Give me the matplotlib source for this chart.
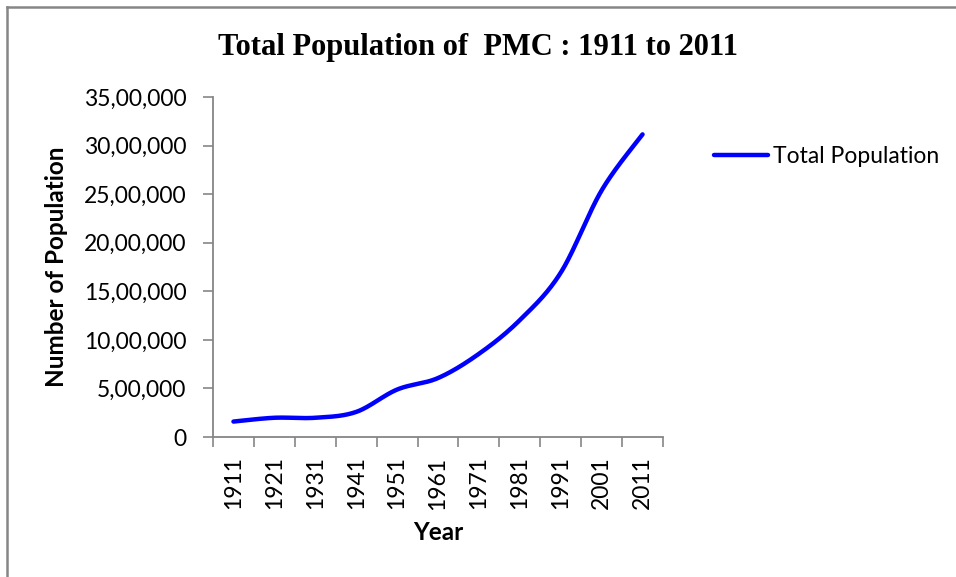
import numpy as np
import matplotlib
matplotlib.use("Agg")
import matplotlib.pyplot as plt
from matplotlib.ticker import FuncFormatter, FixedLocator
from matplotlib.lines import Line2D

# Census population of Pune Municipal Corporation
years = ["1911", "1921", "1931", "1941", "1951", "1961",
         "1971", "1981", "1991", "2001", "2011"]
population = [158856, 198078, 198000, 258197, 488419, 606777,
              856105, 1203351, 1691430, 2538473, 3115431]
series_name = "Total Population"
title = "Total Population of  PMC : 1911 to 2011"
y_ticks = [0, 500000, 1000000, 1500000, 2000000, 2500000, 3000000, 3500000]

LINE_BLUE = "#0000FF"
AXIS_GREY = "#868686"
SANS = ["Lato", "DejaVu Sans"]
TICK_SIZE = 16.5
LABEL_SIZE = 17.5


def indian_format(v, _pos=None):
    v = int(round(v))
    if v == 0:
        return "0"
    s = str(v)
    last3, rest = s[-3:], s[:-3]
    groups = []
    while len(rest) > 2:
        groups.insert(0, rest[-2:])
        rest = rest[:-2]
    if rest:
        groups.insert(0, rest)
    return ",".join(groups + [last3])


def smooth_curve(x, y, steps=40):
    """Catmull-Rom smoothing between consecutive points (spreadsheet-style smoothed line)."""
    x = np.asarray(x, float)
    y = np.asarray(y, float)
    px = np.concatenate([[x[0]], x, [x[-1]]])
    py = np.concatenate([[y[0]], y, [y[-1]]])
    out_x, out_y = [], []
    t = np.linspace(0, 1, steps)
    for i in range(1, len(px) - 2):
        p0x, p1x, p2x, p3x = px[i - 1], px[i], px[i + 1], px[i + 2]
        p0y, p1y, p2y, p3y = py[i - 1], py[i], py[i + 1], py[i + 2]
        c1x, c1y = p1x + (p2x - p0x) / 6, p1y + (p2y - p0y) / 6
        c2x, c2y = p2x - (p3x - p1x) / 6, p2y - (p3y - p1y) / 6
        bx = (1 - t) ** 3 * p1x + 3 * (1 - t) ** 2 * t * c1x + 3 * (1 - t) * t ** 2 * c2x + t ** 3 * p2x
        by = (1 - t) ** 3 * p1y + 3 * (1 - t) ** 2 * t * c1y + 3 * (1 - t) * t ** 2 * c2y + t ** 3 * p2y
        if i > 1:
            bx, by = bx[1:], by[1:]
        out_x.append(bx)
        out_y.append(by)
    return np.concatenate(out_x), np.concatenate(out_y)


W, H = 956, 577
fig = plt.figure(figsize=(W / 100, H / 100), dpi=100)
fig.patch.set_facecolor("white")

# chart area frame (top and left edges visible)
fig.add_artist(Line2D([7 / W, 7 / W], [0, 1 - 7 / H], transform=fig.transFigure,
                      color=AXIS_GREY, lw=1.8))
fig.add_artist(Line2D([7 / W, 1], [1 - 7 / H, 1 - 7 / H], transform=fig.transFigure,
                      color=AXIS_GREY, lw=1.8))

ax = fig.add_axes([213 / W, 1 - 437 / H, (663 - 213) / W, (437 - 97) / H])

xpos = np.arange(len(years))
sx, sy = smooth_curve(xpos, population)
ax.plot(sx, sy, color=LINE_BLUE, lw=3.2, solid_capstyle="round",
        solid_joinstyle="round", label=series_name)

ax.set_xlim(-0.5, len(years) - 0.5)
ax.set_ylim(0, 3500000)

ax.spines["top"].set_visible(False)
ax.spines["right"].set_visible(False)
for side in ("left", "bottom"):
    ax.spines[side].set_color(AXIS_GREY)
    ax.spines[side].set_linewidth(1.3)

ax.yaxis.set_major_locator(FixedLocator(y_ticks))
ax.yaxis.set_major_formatter(FuncFormatter(indian_format))
ax.tick_params(axis="y", direction="out", length=7, width=1.2, color=AXIS_GREY,
               labelsize=TICK_SIZE, pad=12)

# tick marks between categories, labels centred on categories
ax.xaxis.set_major_locator(FixedLocator(np.arange(-0.5, len(years), 1.0)))
ax.xaxis.set_major_formatter(FuncFormatter(lambda v, p: ""))
ax.xaxis.set_minor_locator(FixedLocator(xpos))
ax.set_xticklabels(years, minor=True)
ax.tick_params(axis="x", which="major", direction="out", length=7, width=1.2, color=AXIS_GREY)
ax.tick_params(axis="x", which="minor", length=0, labelsize=TICK_SIZE, pad=14, labelrotation=90)

for lbl in ax.get_yticklabels() + ax.get_xticklabels(minor=True):
    lbl.set_fontfamily(SANS)

# axis titles
fig.text(57 / W, 1 - 267 / H, "Number of Population", rotation=90, ha="center", va="center",
         fontsize=LABEL_SIZE, fontweight="bold", family=SANS)
fig.text(438 / W, 1 - 533 / H, "Year", ha="center", va="center",
         fontsize=LABEL_SIZE, fontweight="bold", family=SANS)

fig.text(478 / W, 1 - 48 / H, title, ha="center", va="center",
         fontsize=22, fontweight="bold", family=["Liberation Serif", "DejaVu Serif"])

ax.legend(loc="center left", bbox_to_anchor=(705 / W, 1 - 157 / H),
          bbox_transform=fig.transFigure, frameon=False, handlelength=2.35,
          handletextpad=0.2, borderaxespad=0, borderpad=0.4,
          prop={"family": SANS, "size": 16.5})

fig.savefig("out.png", dpi=100, facecolor="white")
